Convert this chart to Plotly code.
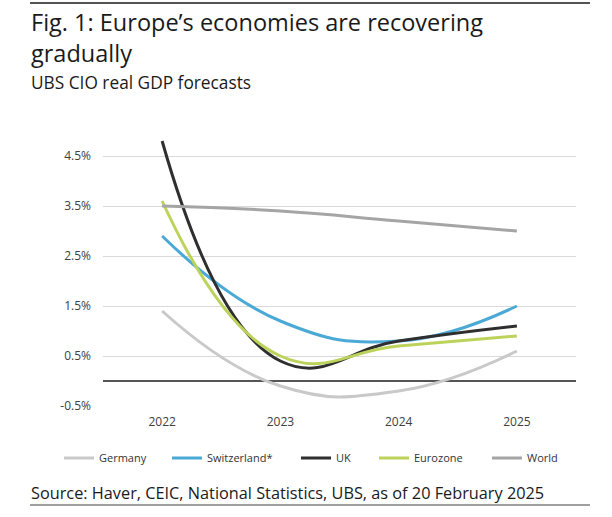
import plotly.graph_objects as go

# UBS CIO real GDP forecasts (%)
years = ["2022", "2023", "2024", "2025"]
germany = [1.4, -0.1, -0.2, 0.6]
switzerland = [2.9, 1.2, 0.8, 1.5]
uk = [4.8, 0.4, 0.8, 1.1]
eurozone = [3.6, 0.5, 0.7, 0.9]
world = [3.5, 3.4, 3.2, 3.0]

y_ticks = [-0.5, 0.5, 1.5, 2.5, 3.5, 4.5]
y_tick_labels = ["-0.5%", "0.5%", "1.5%", "2.5%", "3.5%", "4.5%"]

series = [
    ("Germany", germany, "#c9c9c9", "legend"),
    ("Switzerland*", switzerland, "#4ba9d6", "legend2"),
    ("UK", uk, "#2f2f2f", "legend3"),
    ("Eurozone", eurozone, "#bcd35b", "legend4"),
    ("World", world, "#a5a5a5", "legend5"),
]

FONT = "Open Sans"

# plot area in pixels (612 x 517 page)
W, H = 612, 517
L, R, T, B = 103, 36, 131, 111
pw, ph = W - L - R, H - T - B


def px_x(p):
    return (p - L) / pw


def px_y(p):
    return (H - B - p) / ph


fig = go.Figure()
for name, vals, color, leg in series:
    fig.add_trace(go.Scatter(
        x=years, y=vals, name=name, mode="lines",
        line=dict(color=color, width=3, shape="spline", smoothing=1.3),
        legend=leg,
    ))

# one legend per entry so the spacing follows the original
legend_x = [59, 167, 296, 374, 487]
legends = {}
for i, lx in enumerate(legend_x):
    key = "legend" if i == 0 else "legend%d" % (i + 1)
    legends[key] = dict(
        x=px_x(lx), y=px_y(458), xanchor="left", yanchor="middle",
        orientation="h", bgcolor="rgba(0,0,0,0)",
        font=dict(family=FONT, size=11, color="#333333"),
    )

fig.update_layout(
    width=W, height=H,
    margin=dict(l=L, r=R, t=T, b=B),
    paper_bgcolor="white", plot_bgcolor="white",
    showlegend=True,
    font=dict(family=FONT, color="#333333"),
    **legends,
)

fig.update_xaxes(
    type="category", range=[-0.5, 3.5],
    showgrid=False, showline=False, ticks="", ticklabelstandoff=7,
    tickfont=dict(family=FONT, size=12, color="#404040"),
)
fig.update_yaxes(
    range=[-0.5, 5.0], tickvals=y_ticks, ticktext=y_tick_labels,
    showgrid=True, gridcolor="#d9d9d9", gridwidth=1,
    zeroline=True, zerolinecolor="#555555", zerolinewidth=1.5,
    showline=False, ticks="", ticklabelstandoff=11,
    tickfont=dict(family=FONT, size=12, color="#404040"),
)

# title, subtitle and source
fig.add_annotation(
    text="Fig. 1: Europe\u2019s economies are recovering<br>gradually",
    xref="paper", yref="paper", align="left",
    x=px_x(29), y=px_y(37), xanchor="left", yanchor="middle",
    showarrow=False, font=dict(family=FONT, size=23.5, color="#1a1a1a"),
)
fig.add_annotation(
    text="UBS CIO real GDP forecasts", xref="paper", yref="paper",
    x=px_x(29), y=px_y(82), xanchor="left", yanchor="middle",
    showarrow=False, font=dict(family=FONT, size=17.3, color="#1a1a1a"),
)
fig.add_annotation(
    text="Source: Haver, CEIC, National Statistics, UBS, as of 20 February 2025",
    xref="paper", yref="paper",
    x=px_x(29), y=px_y(493), xanchor="left", yanchor="middle",
    showarrow=False, font=dict(family=FONT, size=16.3, color="#1a1a1a"),
)

# rules at top and bottom
fig.add_shape(type="line", xref="paper", yref="paper",
              x0=px_x(30), x1=px_x(590), y0=px_y(3), y1=px_y(3),
              line=dict(color="#1a1a1a", width=1.5))
fig.add_shape(type="line", xref="paper", yref="paper",
              x0=px_x(30), x1=px_x(590), y0=px_y(505), y1=px_y(505),
              line=dict(color="#7f7f7f", width=1.5))

# drop the default page margin so the figure sits at the window corner
fig.write_html("out.html", config={"displayModeBar": False},
               post_script="document.body.style.margin='0';")
